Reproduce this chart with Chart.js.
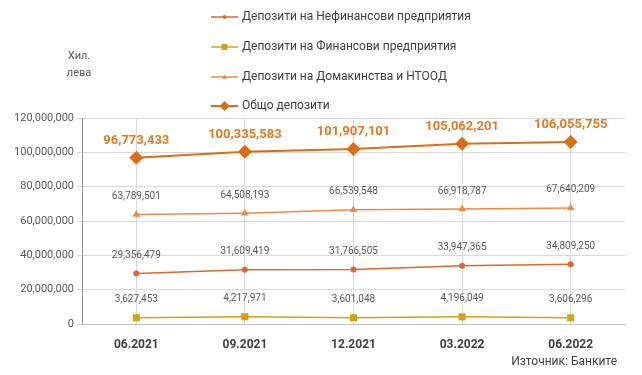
<!DOCTYPE html>
<html>
<head>
<meta charset="utf-8">
<script src="https://cdn.jsdelivr.net/npm/chart.js@4/dist/chart.umd.min.js"></script>
<style>
  html, body { margin: 0; padding: 0; background: #fff; }
  #wrap { width: 642px; height: 375px; position: relative; }
</style>
</head>
<body>
<div id="wrap"><canvas id="depChart" width="642" height="375"></canvas></div>
<script>
// Periods on the x axis
const periods = ['06.2021', '09.2021', '12.2021', '03.2022', '06.2022'];

// Deposits, thousand leva
const nonFinancial = [29356479, 31609419, 31766505, 33947365, 34809250];
const financial = [3627453, 4217971, 3601048, 4196049, 3606296];
const households = [63789501, 64508193, 66539548, 66918787, 67640209];
const totalDeposits = [96773433, 100335583, 101907101, 105062201, 106055755];

// Y axis ticks
const yTicks = [0, 20000000, 40000000, 60000000, 80000000, 100000000, 120000000];

const legendNames = [
  'Депозити на Нефинансови предприятия',
  'Депозити на Финансови предприятия',
  'Депозити на Домакинства и НТООД',
  'Общо депозити'
];

const FONT = 'Roboto, "Liberation Sans", sans-serif';
let fmt = v => v.toLocaleString('en-US');

// marker sizes used in the legend (smaller than on the chart)
const legendRadius = [2, 3, 2.5, 5];

// Draws the value labels above points, the legend, the axis title and the source
const extras = {
  id: 'extras',
  afterDatasetsDraw(chart) {
    let ctx = chart.ctx;
    ctx.save();
    ctx.textAlign = 'center';
    ctx.textBaseline = 'middle';
    chart.data.datasets.forEach((ds, i) => {
      let meta = chart.getDatasetMeta(i);
      meta.data.forEach((pt, j) => {
        if (i === 3) {
          ctx.font = 'bold 13px ' + FONT;
          ctx.fillStyle = '#E07B24';
          ctx.fillText(fmt(ds.data[j]), pt.x, pt.y - 17);
        } else {
          ctx.font = '10px ' + FONT;
          ctx.fillStyle = '#595959';
          ctx.fillText(fmt(ds.data[j]), pt.x, pt.y - 18);
        }
      });
    });

    // legend
    let rows = [17, 47, 77, 106];
    chart.data.datasets.forEach((ds, i) => {
      let y = rows[i];
      let cx = 224.5;
      ctx.strokeStyle = ds.borderColor;
      ctx.lineWidth = ds.borderWidth;
      ctx.beginPath();
      ctx.moveTo(211, y);
      ctx.lineTo(238, y);
      ctx.stroke();
      ctx.fillStyle = ds.pointBackgroundColor;
      let r = legendRadius[i];
      ctx.beginPath();
      if (ds.pointStyle === 'rect') {
        ctx.rect(cx - r, y - r, 2 * r, 2 * r);
      } else if (ds.pointStyle === 'rectRot') {
        ctx.moveTo(cx, y - r); ctx.lineTo(cx + r, y); ctx.lineTo(cx, y + r); ctx.lineTo(cx - r, y);
      } else if (ds.pointStyle === 'triangle') {
        ctx.moveTo(cx, y - r); ctx.lineTo(cx + r, y + r * 0.7); ctx.lineTo(cx - r, y + r * 0.7);
      } else {
        ctx.arc(cx, y, r, 0, Math.PI * 2);
      }
      ctx.closePath();
      ctx.fill();
      ctx.textAlign = 'left';
      ctx.font = '12px ' + FONT;
      ctx.fillStyle = '#404040';
      ctx.fillText(legendNames[i], 242, y);
    });

    // axis title
    ctx.textAlign = 'center';
    ctx.font = '11px ' + FONT;
    ctx.fillStyle = '#595959';
    ctx.fillText('Хил.', 79, 56);
    ctx.fillText('лева', 79, 73);

    // source
    ctx.textAlign = 'right';
    ctx.font = '12px ' + FONT;
    ctx.fillStyle = '#404040';
    ctx.fillText('Източник: Банките', 617, 362);
    ctx.restore();
  }
};

let makeSet = (label, data, color, style, radius, width) => ({
  label: label,
  data: data,
  borderColor: color,
  backgroundColor: color,
  pointBackgroundColor: color,
  pointBorderColor: color,
  pointStyle: style,
  pointRadius: radius,
  pointBorderWidth: 0,
  borderWidth: width,
  tension: 0
});

new Chart(document.getElementById('depChart'), {
  type: 'line',
  data: {
    labels: periods,
    datasets: [
      makeSet(legendNames[0], nonFinancial, '#D9692E', 'circle', 3, 1.5),
      makeSet(legendNames[1], financial, '#D4A20E', 'rect', 5, 1.5),
      makeSet(legendNames[2], households, '#EF8A45', 'triangle', 4.5, 1.5),
      makeSet(legendNames[3], totalDeposits, '#DD6D12', 'rectRot', 7, 2)
    ]
  },
  plugins: [extras],
  options: {
    responsive: false,
    animation: false,
    layout: { padding: { top: 118, right: 17, left: 0, bottom: 0 } },
    plugins: {
      legend: { display: false },
      tooltip: { enabled: false }
    },
    scales: {
      x: {
        offset: true,
        grid: { offset: false, color: '#D9D9D9', drawTicks: false },
        border: { color: '#BFBFBF' },
        ticks: {
          padding: 14,
          color: '#404040',
          font: { family: FONT, size: 12, weight: 'bold' }
        },
        afterFit: s => { s.height = 51; }
      },
      y: {
        min: 0,
        max: 120000000,
        afterBuildTicks: s => { s.ticks = yTicks.map(v => ({ value: v })); },
        grid: { color: '#D9D9D9', tickLength: 5 },
        border: { color: '#8C8C8C' },
        ticks: {
          padding: 3,
          color: '#595959',
          font: { family: FONT, size: 11 },
          callback: v => fmt(v)
        },
        afterFit: s => { s.width = 82; }
      }
    }
  }
});
</script>
</body>
</html>
